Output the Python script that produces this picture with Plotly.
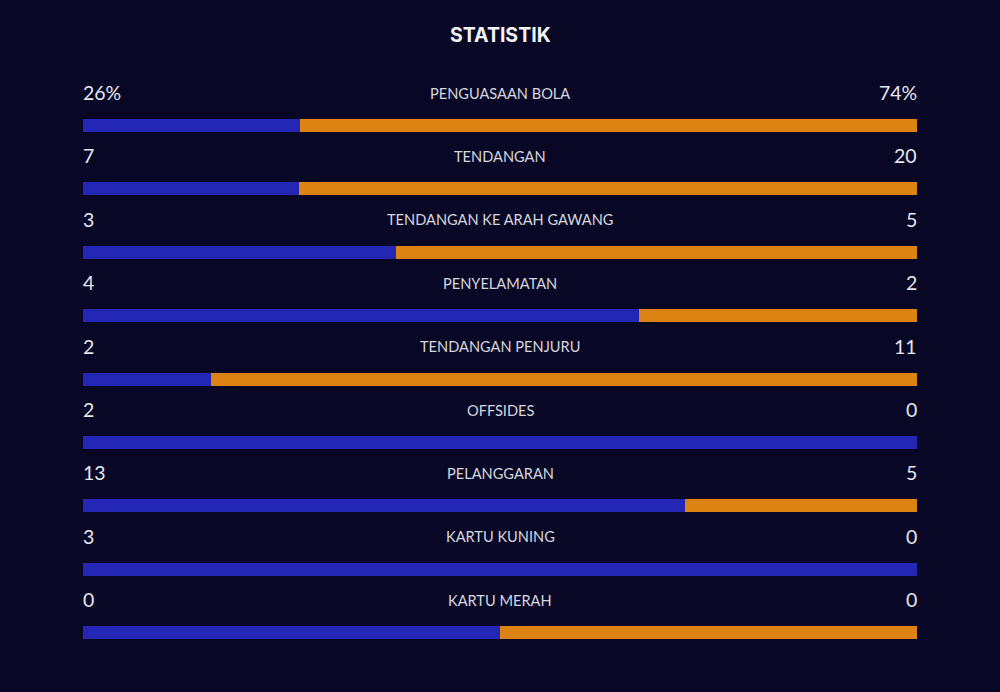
import plotly.graph_objects as go

categories = ["PENGUASAAN BOLA", "TENDANGAN", "TENDANGAN KE ARAH GAWANG", "PENYELAMATAN",
              "TENDANGAN PENJURU", "OFFSIDES", "PELANGGARAN", "KARTU KUNING", "KARTU MERAH"]
home_values = [26, 7, 3, 4, 2, 2, 13, 3, 0]
away_values = [74, 20, 5, 2, 11, 0, 5, 0, 0]
home_labels = ["26%", "7", "3", "4", "2", "2", "13", "3", "0"]
away_labels = ["74%", "20", "5", "2", "11", "0", "5", "0", "0"]

BG = "#080826"
BLUE = "#2427B5"
ORANGE = "#DC8314"

home_share, away_share = [], []
for h, a in zip(home_values, away_values):
    t = h + a
    if t == 0:
        home_share.append(0.5); away_share.append(0.5)
    else:
        home_share.append(h / t); away_share.append(a / t)

idx = list(range(len(categories)))
bar_w = 0.205

fig = go.Figure()
fig.add_trace(go.Bar(y=idx, x=home_share, orientation="h", marker=dict(color=BLUE, line=dict(width=0)),
                     width=bar_w, hoverinfo="skip"))
fig.add_trace(go.Bar(y=idx, x=away_share, orientation="h", marker=dict(color=ORANGE, line=dict(width=0)),
                     width=bar_w, hoverinfo="skip"))

ann = []
off = -0.52
for i, (c, hl, al) in enumerate(zip(categories, home_labels, away_labels)):
    ann.append(dict(x=0, y=i + off, xref="x", yref="y", text=hl, showarrow=False, xanchor="left",
                    yanchor="middle", xshift=-1, borderpad=0,
                    font=dict(family="Lato", size=19.5, color="#E6E6EE")))
    ann.append(dict(x=1, y=i + off, xref="x", yref="y", text=al, showarrow=False, xanchor="right",
                    yanchor="middle", xshift=1, borderpad=0,
                    font=dict(family="Lato", size=19.5, color="#E6E6EE")))
    ann.append(dict(x=0.5, y=i + off + 0.01, xref="x", yref="y", text=c, showarrow=False, xanchor="center",
                    yanchor="middle", borderpad=0,
                    font=dict(family="Lato", size=14.6, color="#D6D6DE")))
ann.append(dict(x=0.5, y=-1.979 + 35 / 63.4, xref="paper", yref="y", text="<b>STATISTIK</b>", showarrow=False,
                font=dict(family="Inter", size=19.5, color="#F2F2F5")))

fig.update_layout(
    width=1000, height=692, barmode="stack", showlegend=False,
    paper_bgcolor=BG, plot_bgcolor=BG,
    margin=dict(l=83, r=83, t=0, b=0),
    xaxis=dict(range=[0, 1], visible=False, fixedrange=True),
    yaxis=dict(range=[8.935, -1.979], visible=False, fixedrange=True),
    bargap=0,
    annotations=ann,
)
fig.write_html("out.html")
